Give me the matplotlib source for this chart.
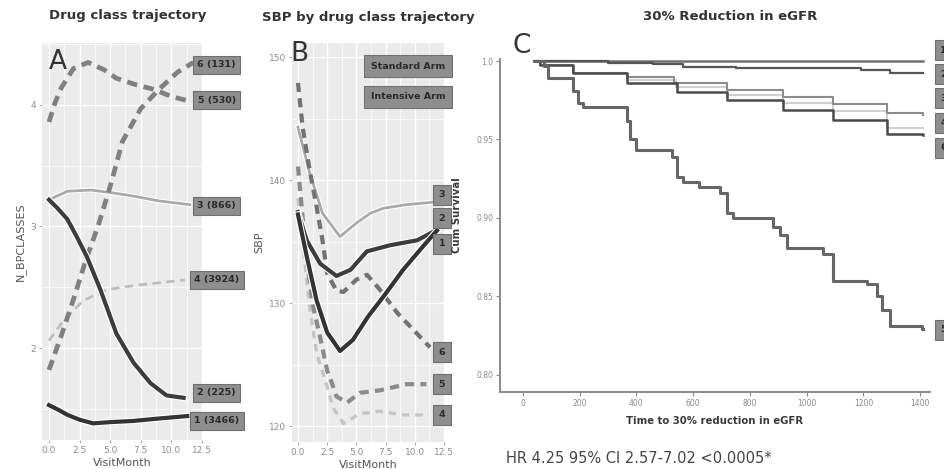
import matplotlib
matplotlib.use("Agg")
import matplotlib.pyplot as plt
import matplotlib.patheffects as pe
import numpy as np

W, H = 945, 469

# ---- panel A: N_BPCLASSES by visit month ----
a_x1 = [0, 0.8, 1.5, 2.5, 3.6, 5, 6.9, 9, 11.3]
a_y1 = [1.53, 1.49, 1.45, 1.41, 1.38, 1.39, 1.40, 1.42, 1.44]
a_x2 = [0, 0.7, 1.5, 2.3, 3.1, 4.2, 5.5, 6.9, 8.3, 9.6, 11.0]
a_y2 = [3.22, 3.15, 3.06, 2.91, 2.75, 2.48, 2.12, 1.88, 1.71, 1.61, 1.59]
a_x3 = [0, 1.5, 3.4, 5, 6.9, 9, 11.5]
a_y3 = [3.22, 3.29, 3.30, 3.28, 3.25, 3.21, 3.18]
a_x4 = [0, 0.7, 1.4, 2.8, 4.7, 7.4, 9.3, 11.1]
a_y4 = [2.06, 2.16, 2.25, 2.39, 2.48, 2.52, 2.54, 2.56]
a_x5 = [0, 0.5, 1, 2, 3.2, 4.5, 5.5, 7, 8.5, 10, 11.5]
a_y5 = [3.86, 4.02, 4.14, 4.30, 4.35, 4.29, 4.22, 4.17, 4.13, 4.07, 4.03]
a_x6 = [0, 1, 2, 3, 4, 5, 6, 7.5, 9, 10.5, 11.8]
a_y6 = [1.82, 2.1, 2.4, 2.72, 3.0, 3.33, 3.7, 3.97, 4.13, 4.27, 4.35]
a_labels = ["1 (3466)", "2 (225)", "3 (866)", "4 (3924)", "5 (530)", "6 (131)"]
a_label_y = [1.40, 1.63, 3.17, 2.56, 4.04, 4.33]

# ---- panel B: SBP by visit month ----
b_x1 = [0, 0.75, 1.6, 2.5, 3.6, 4.7, 6.0, 7.3, 9.0, 10.7, 11.9]
b_y1 = [137.2, 133.8, 130.2, 127.6, 126.1, 127.0, 128.9, 130.5, 132.7, 134.6, 135.9]
b_x2 = [0, 0.75, 1.9, 3.3, 4.5, 5.9, 7.9, 10.2, 11.6]
b_y2 = [137.4, 135.1, 133.2, 132.2, 132.7, 134.2, 134.7, 135.1, 135.8]
b_x3 = [0, 1.0, 2.1, 3.6, 5.0, 6.2, 7.3, 9.3, 11.6]
b_y3 = [144.3, 140.6, 137.3, 135.4, 136.5, 137.3, 137.7, 138.0, 138.2]
b_x4 = [0, 1.0, 1.6, 2.5, 3.0, 3.9, 5.3, 7.0, 9.0, 11.2]
b_y4 = [138.5, 129.7, 125.9, 123.2, 121.5, 120.2, 121.0, 121.2, 120.9, 120.9]
b_x5 = [0, 0.4, 0.75, 1.3, 1.9, 2.5, 2.9, 3.3, 4.2, 5.3, 7.0, 9.3, 11.0]
b_y5 = [141.1, 137.0, 133.5, 129.7, 127.2, 124.5, 123.5, 122.4, 121.9, 122.7, 122.9, 123.4, 123.4]
b_x6 = [0, 0.4, 1.0, 1.6, 2.1, 2.5, 3.3, 3.9, 5.0, 5.9, 7.0, 8.5, 9.9, 11.3]
b_y6 = [147.9, 144.3, 140.8, 137.8, 135.1, 132.4, 131.0, 130.9, 131.9, 132.3, 131.1, 129.2, 127.8, 126.4]
b_labels = ["1", "2", "3", "4", "5", "6"]
b_label_y = [134.8, 136.9, 138.8, 120.9, 123.4, 126.0]
arm_labels = ["Standard Arm", "Intensive Arm"]

# ---- panel C: Kaplan-Meier, time to 30% reduction in eGFR ----
c_t1 = [45, 1410]
c_s1 = [1.0, 1.0]
c_t2 = [45, 300, 460, 565, 750, 1060, 1190, 1295, 1410]
c_s2 = [1.0, 0.9985, 0.998, 0.9964, 0.9958, 0.9953, 0.9943, 0.9926, 0.9926]
c_t3 = [40, 60, 175, 365, 533, 718, 918, 1094, 1283, 1410]
c_s3 = [1.0, 0.9974, 0.9921, 0.9896, 0.9861, 0.9815, 0.9772, 0.9725, 0.9666, 0.9655]
c_t4 = [40, 60, 175, 365, 540, 718, 918, 1094, 1283, 1410]
c_s4 = [1.0, 0.9974, 0.9921, 0.9878, 0.9835, 0.9785, 0.9735, 0.968, 0.9575, 0.957]
c_t5 = [45, 75, 88, 178, 195, 213, 365, 377, 400, 524, 542, 565, 620, 694, 720, 742,
        883, 905, 930, 1059, 1094, 1212, 1247, 1265, 1295, 1406, 1410]
c_s5 = [1.0, 0.997, 0.989, 0.981, 0.973, 0.971, 0.962, 0.950, 0.943, 0.939, 0.926, 0.923,
        0.920, 0.916, 0.903, 0.900, 0.894, 0.889, 0.881, 0.877, 0.860, 0.858, 0.850, 0.841,
        0.831, 0.829, 0.829]
c_t6 = [40, 60, 175, 365, 542, 718, 918, 1094, 1283, 1410]
c_s6 = [1.0, 0.9974, 0.9921, 0.9857, 0.9804, 0.9751, 0.9687, 0.9623, 0.9538, 0.9527]
c_labels = ["1", "2", "3", "4", "6", "5"]
c_label_y = [1.007, 0.9917, 0.9764, 0.9605, 0.9446, 0.8287]


def px_box(x0, y0, x1, y1):
    return [x0 / W, 1 - y1 / H, (x1 - x0) / W, (y1 - y0) / H]


def halo(lw):
    return [pe.Stroke(linewidth=lw + 1.6, foreground="white"), pe.Normal()]


def gg_axes(ax, xlim, ylim, yticks, yminor):
    ax.set_facecolor("#ebebeb")
    ax.set_xlim(xlim)
    ax.set_ylim(ylim)
    ax.set_xticks([0, 2.5, 5, 7.5, 10, 12.5])
    ax.set_xticklabels(["0.0", "2.5", "5.0", "7.5", "10.0", "12.5"])
    ax.set_xticks(np.arange(1.25, 12.5, 2.5), minor=True)
    ax.set_yticks(yticks)
    ax.set_yticks(yminor, minor=True)
    ax.grid(True, which="major", color="white", lw=1.0)
    ax.grid(True, which="minor", color="white", lw=0.5)
    ax.set_axisbelow(True)
    for s in ax.spines.values():
        s.set_visible(False)
    ax.tick_params(which="major", length=2.5, width=0.6, color="#999999",
                   labelsize=6.5, labelcolor="#8c8c8c", pad=2)
    ax.tick_params(which="minor", length=0)


box_style = dict(boxstyle="square,pad=0.45", fc="#8e8e8e", ec="#707070", lw=0.8)
txt_col = "#2a2a2a"

fig = plt.figure(figsize=(W / 100, H / 100), dpi=100)

# ================= A =================
axA = fig.add_axes(px_box(42, 43, 202, 440))
gg_axes(axA, (-0.57, 12.5), (1.243, 4.51), [2, 3, 4], [1.5, 2.5, 3.5, 4.5])
axA.plot(a_x4, a_y4, color="#bdbdbd", lw=2.0, ls=(0, (3, 2)))
axA.plot(a_x3, a_y3, color="#a9a9a9", lw=2.0, path_effects=halo(2.0))
axA.plot(a_x5, a_y5, color="#808080", lw=3.4, ls=(0, (2.2, 1.4)))
axA.plot(a_x6, a_y6, color="#808080", lw=3.4, ls=(0, (2.2, 1.4)))
axA.plot(a_x2, a_y2, color="#3c3c3c", lw=3.0, path_effects=halo(3.0))
axA.plot(a_x1, a_y1, color="#333333", lw=3.0, path_effects=halo(3.0))
for lab, yv in zip(a_labels, a_label_y):
    axA.text(13.7, yv, lab, ha="center", va="center", fontsize=6.8, color=txt_col,
             fontweight="bold", bbox=box_style, clip_on=False, zorder=5)
axA.set_ylabel("N_BPCLASSES", fontsize=8, color="#555555", labelpad=3)
axA.set_xlabel("VisitMonth", fontsize=8, color="#555555", labelpad=2)
axA.text(0.04, 0.985, "A", transform=axA.transAxes, fontsize=19, color="#333333",
         ha="left", va="top")
fig.text(128 / W, 1 - 16 / H, "Drug class trajectory", ha="center", va="center",
         fontsize=9.5, fontweight="bold", color="#333333")

# ================= B =================
axB = fig.add_axes(px_box(292, 43, 444, 442))
gg_axes(axB, (-0.51, 12.5), (118.7, 151.14), [120, 130, 140, 150], [125, 135, 145])
axB.plot(b_x4, b_y4, color="#c4c4c4", lw=2.4, ls=(0, (2.2, 1.8)))
axB.plot(b_x3, b_y3, color="#a9a9a9", lw=2.0, path_effects=halo(2.0))
axB.plot(b_x5, b_y5, color="#8a8a8a", lw=3.0, ls=(0, (2.2, 1.5)))
axB.plot(b_x6, b_y6, color="#727272", lw=3.0, ls=(0, (2.2, 1.5)))
axB.plot(b_x2, b_y2, color="#3c3c3c", lw=3.0, path_effects=halo(3.0))
axB.plot(b_x1, b_y1, color="#333333", lw=3.0, path_effects=halo(3.0))
num_box = dict(boxstyle="square,pad=0.6", fc="#8e8e8e", ec="#707070", lw=0.8)
for lab, yv in zip(b_labels, b_label_y):
    axB.text(12.33, yv, lab, ha="center", va="center", fontsize=6.8, color=txt_col,
             fontweight="bold", bbox=num_box, clip_on=False, zorder=5)
for lab, yf in zip(arm_labels, [0.942, 0.865]):
    axB.text(0.763, yf, lab, transform=axB.transAxes, ha="center", va="center",
             fontsize=6.8, color=txt_col, fontweight="bold",
             bbox=dict(boxstyle="square,pad=0.7", fc="#8e8e8e", ec="#707070", lw=0.8))
axB.set_ylabel("SBP", fontsize=8, color="#555555", labelpad=3)
axB.set_xlabel("VisitMonth", fontsize=8, color="#555555", labelpad=2)
axB.text(-0.01, 1.005, "B", transform=axB.transAxes, fontsize=19, color="#333333",
         ha="left", va="top")
fig.text(368 / W, 1 - 17 / H, "SBP by drug class trajectory", ha="center", va="center",
         fontsize=9.5, fontweight="bold", color="#333333")

# ================= C =================
axC = fig.add_axes(px_box(500, 59, 930, 392))
axC.set_xlim(-81, 1435)
axC.set_ylim(0.789, 1.0013)
km = [(c_t1, c_s1, "#707070", 1.8), (c_t4, c_s4, "#d0d0d0", 1.5),
      (c_t3, c_s3, "#8c8c8c", 1.5), (c_t6, c_s6, "#4a4a4a", 1.8),
      (c_t2, c_s2, "#555555", 1.6), (c_t5, c_s5, "#666666", 2.2)]
for t, s, col, lw in km:
    axC.plot(t, s, drawstyle="steps-post", color=col, lw=lw)
axC.set_xticks(np.arange(0, 1401, 200))
axC.set_yticks([0.80, 0.85, 0.90, 0.95, 1.0])
axC.set_yticklabels(["0.80", "0.85", "0.90", "0.95", "1.0"])
for s in ["top", "right"]:
    axC.spines[s].set_visible(False)
for s in ["left", "bottom"]:
    axC.spines[s].set_color("#8a8a8a")
    axC.spines[s].set_linewidth(1.4)
axC.tick_params(length=3, width=0.8, color="#8a8a8a", labelsize=5.5,
                labelcolor="#8a8a8a", pad=2)
axC.set_xlabel("Time to 30% reduction in eGFR", fontsize=7.3, fontweight="bold",
               color="#3a3a3a", labelpad=6)
axC.set_ylabel("Cum Survival", fontsize=7.3, fontweight="bold", color="#3a3a3a",
               labelpad=4)
axC.yaxis.set_label_coords(-0.088, 0.53)
for lab, yv in zip(c_labels, c_label_y):
    axC.text(1471, yv, lab, ha="left", va="center", fontsize=6.8, color=txt_col,
             fontweight="bold", bbox=num_box, clip_on=False, zorder=5)
fig.text(512 / W, 1 - 46 / H, "C", fontsize=19, color="#333333", ha="left", va="center")
fig.text(730 / W, 1 - 17 / H, "30% Reduction in eGFR", ha="center", va="center",
         fontsize=9.5, fontweight="bold", color="#333333")
fig.text(506 / W, 1 - 458 / H, "HR 4.25 95% CI 2.57-7.02 <0.0005*", ha="left",
         va="center", fontsize=10.5, color="#444444")

fig.savefig("out.png", dpi=100)
